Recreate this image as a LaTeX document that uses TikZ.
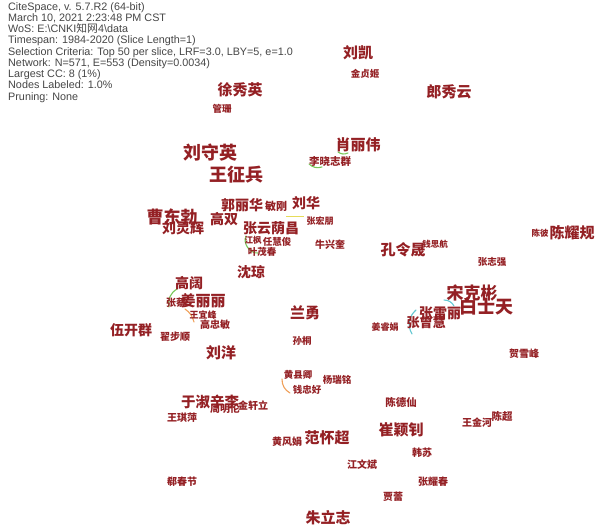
\documentclass[tikz,border=0pt]{standalone}
\usepackage{fontspec}
\setmainfont{Liberation Sans}
\newfontfamily\cjk{Noto Sans CJK SC}
\definecolor{labred}{RGB}{148,32,36}
\definecolor{hdrgray}{RGB}{70,70,70}
\definecolor{edgegreen}{RGB}{120,200,90}
\definecolor{edgeorange}{RGB}{240,160,90}
\definecolor{edgecyan}{RGB}{100,200,210}
\definecolor{edgeyellow}{RGB}{230,220,90}
\tikzset{
  au/.style={text=labred, inner sep=0pt, font={\cjk\bfseries\fontsize{#1}{#1}\selectfont}},
  link/.style={line width=1.1pt, line cap=round},
}
\begin{document}
\begin{tikzpicture}[x=1pt,y=-1pt]
\useasboundingbox[fill=white] (0,0) rectangle (605,530);
% edges (drawn first, under labels)
\coordinate (g1a) at (309,164); \coordinate (g1b) at (322,167);
\coordinate (g2a) at (338,152); \coordinate (g2b) at (348,153);
\coordinate (g3a) at (246,236); \coordinate (g3b) at (258,253);
\coordinate (g4a) at (177,289); \coordinate (g4b) at (169,307);
\coordinate (o1a) at (185,309); \coordinate (o1b) at (194,322);
\coordinate (o2a) at (282,379); \coordinate (o2b) at (290,393);
\coordinate (c1a) at (416,310); \coordinate (c1b) at (412,334);
\coordinate (c2a) at (444,300); \coordinate (c2b) at (454,306);
\coordinate (y1a) at (286,216); \coordinate (y1b) at (304,216);
\draw[link, edgegreen] (g1a) to[bend right=30] (g1b);
\draw[link, edgegreen] (g2a) to[bend right=30] (g2b);
\draw[link, edgegreen] (g3a) to[bend right=60] (g3b);
\draw[link, edgegreen] (g4a) to[bend right=35] (g4b);
\draw[link, edgeorange] (o1a) to[bend left=20] (o1b);
\draw[link, edgeorange] (o2a) to[bend right=30] (o2b);
\draw[link, edgecyan] (c1a) to[bend right=40] (c1b);
\draw[link, edgecyan] (c2a) to[bend left=30] (c2b);
\draw[line width=0.8pt, edgeyellow] (y1a) -- (y1b);
% header
\node[anchor=north west, inner sep=0pt, text=hdrgray, align=left,
      font={\fontsize{10.8}{11.25}\selectfont}] (hdr) at (8,2) {%
CiteSpace, v. 5.7.R2 (64-bit)\\
March 10, 2021 2:23:48 PM CST\\
WoS: E:\textbackslash CNKI{\cjk 知网}4\textbackslash data\\
Timespan: 1984-2020 (Slice Length=1)\\
Selection Criteria: Top 50 per slice, LRF=3.0, LBY=5, e=1.0\\
Network: N=571, E=553 (Density=0.0034)\\
Largest CC: 8 (1\%)\\
Nodes Labeled: 1.0\%\\
Pruning: None};
% labels
\node[au=15] (liukai) at (358,53) {刘凯};
\node[au=9.5] (jinzhenji) at (365,74) {金贞姬};
\node[au=15] (xuxiuying) at (240,90) {徐秀英};
\node[au=9.5] (guanshan) at (222,109) {管珊};
\node[au=15] (langxiuyun) at (449,92) {郎秀云};
\node[au=15] (xiaoliwei) at (358,145) {肖丽伟};
\node[au=10.5] (lixiao) at (330,162) {李晓志群};
\node[au=18] (liushouying) at (210,153) {刘守英};
\node[au=18] (wangzhengbing) at (236,175) {王征兵};
\node[au=17] (caodongbo) at (172,217) {曹东勃};
\node[au=14] (liulinghui) at (183,228) {刘灵辉};
\node[au=14] (gaoshuang) at (224,219) {高双};
\node[au=14] (guolihua) at (242,205) {郭丽华};
\node[au=11] (mingang) at (276,206) {敏刚};
\node[au=14] (liuhua) at (306,203) {刘华};
\node[au=14] (zhangyun) at (271,228) {张云荫昌};
\node[au=9] (zhanghongpeng) at (320,221) {张宏朋};
\node[au=8.5] (jiangfeng) at (253,240) {江枫};
\node[au=9.5] (renhuijun) at (277,242) {任慧俊};
\node[au=9.5] (yemaochun) at (262,252) {叶茂春};
\node[au=10] (niuxingkui) at (330,245) {牛兴奎};
\node[au=14] (shenqiong) at (251,272) {沈琼};
\node[au=15] (konglingsheng) at (403,250) {孔令晟};
\node[au=8.5] (qiansihang) at (435,244) {钱思航};
\node[au=8.5] (chenbi) at (540,233) {陈彼};
\node[au=15] (chenyaogui) at (572,233) {陈耀规};
\node[au=9.5] (zhangzhiqiang) at (492,262) {张志强};
\node[au=17] (songkebin) at (472,293) {宋克彬};
\node[au=18] (baishitian) at (486,307) {白士天};
\node[au=14] (zhangleili) at (440,313) {张雷丽};
\node[au=13] (zhangzenghui) at (426,323) {张曾慧};
\node[au=9] (jiangruijuan) at (385,327) {姜睿娟};
\node[au=10] (hexuefeng) at (524,354) {贺雪峰};
\node[au=15] (lanyong) at (305,313) {兰勇};
\node[au=9.5] (suntong) at (302,341) {孙桐};
\node[au=14] (gaokuo) at (189,283) {高阔};
\node[au=15] (jianglili) at (203,301) {姜丽丽};
\node[au=10] (zhangcai) at (176,303) {张蔡};
\node[au=9] (wangyifeng) at (203,315) {王宜峰};
\node[au=10] (gaozhongmin) at (215,325) {高忠敏};
\node[au=14] (wukaiqun) at (131,330) {伍开群};
\node[au=10] (zhaibushun) at (175,337) {翟步顺};
\node[au=15] (liuyang) at (221,353) {刘洋};
\node[au=9.5] (huangxianqing) at (298,375) {黄县卿};
\node[au=9.5] (qianzhonghao) at (307,390) {钱忠好};
\node[au=9.5] (yangruiming) at (337,380) {杨瑞铭};
\node[au=10.5] (chendexian) at (401,402) {陈德仙};
\node[au=10.5] (chenchao) at (502,416) {陈超};
\node[au=10] (wangjinhe) at (477,423) {王金河};
\node[au=15] (cuiyingzhao) at (401,430) {崔颖钊};
\node[au=15] (fanhuaichao) at (327,438) {范怀超};
\node[au=10] (huangfengjuan) at (287,442) {黄风娟};
\node[au=10] (hansu) at (422,453) {韩苏};
\node[au=10] (jiangwenbin) at (362,465) {江文斌};
\node[au=10] (zhangyaochun) at (433,482) {张耀春};
\node[au=10] (jialei) at (393,497) {贾蕾};
\node[au=15] (zhulizhi) at (328,518) {朱立志};
\node[au=14.5] (yushu) at (210,402) {于淑辛李};
\node[au=10] (zhoumingyan) at (225,409) {周明伦};
\node[au=10] (jinxuanli) at (253,406) {金轩立};
\node[au=10] (wangqiping) at (182,418) {王琪萍};
\node[au=10] (xichunjie) at (182,482) {郗春节};
\end{tikzpicture}
\end{document}
